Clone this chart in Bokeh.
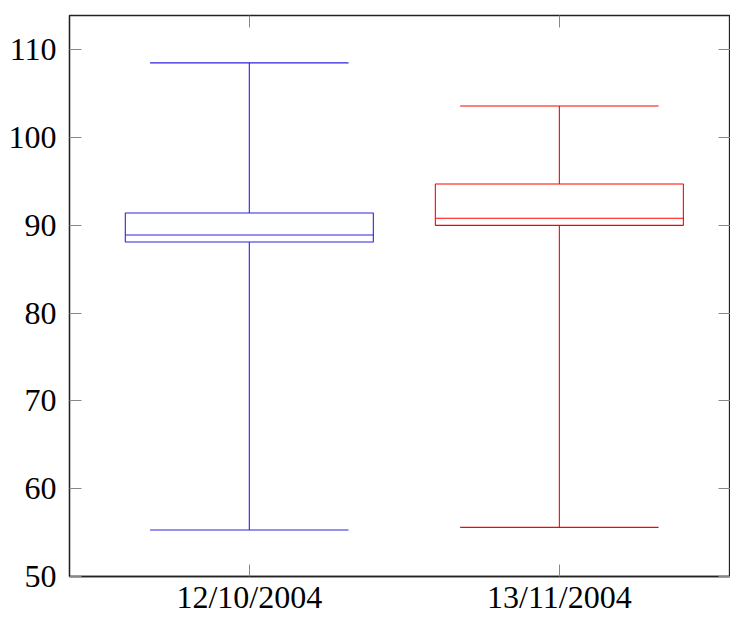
from bokeh.plotting import figure
from bokeh.models import FixedTicker, LinearAxis, ColumnDataSource, CustomLabelingPolicy
from bokeh.embed import file_html
from bokeh.resources import INLINE

categories = ["12/10/2004", "13/11/2004"]
positions = [1, 2]
lower_whisker = [55.3, 55.6]
q1 = [88.1, 90.0]
median = [88.9, 90.8]
q3 = [91.4, 94.7]
upper_whisker = [108.5, 103.6]
colors = ["#2f22dd", "#ff0000"]
yticks = [50, 60, 70, 80, 90, 100, 110]

box_half = 0.4
cap_half = 0.32

src = ColumnDataSource(dict(
    x=positions,
    left=[p - box_half for p in positions],
    right=[p + box_half for p in positions],
    cl=[p - cap_half for p in positions],
    cr=[p + cap_half for p in positions],
    lw=lower_whisker, q1=q1, med=median, q3=q3, uw=upper_whisker,
    color=colors,
))

FONT = "Liberation Serif"

p = figure(width=730, height=617, output_backend="svg", toolbar_location=None,
           x_range=(0.42, 2.552), y_range=(50, 113.9),
           min_border_left=69, min_border_right=0, min_border_top=15, min_border_bottom=41)
p.background_fill_color = "white"
p.border_fill_color = "white"
p.outline_line_color = "#222222"
p.outline_line_width = 1.3
p.grid.visible = False

# whiskers
p.segment(x0="x", y0="q3", x1="x", y1="uw", line_color="color", line_width=1.1, source=src)
p.segment(x0="x", y0="lw", x1="x", y1="q1", line_color="color", line_width=1.1, source=src)
# caps
p.segment(x0="cl", y0="uw", x1="cr", y1="uw", line_color="color", line_width=1.1, source=src)
p.segment(x0="cl", y0="lw", x1="cr", y1="lw", line_color="color", line_width=1.1, source=src)
# boxes
p.quad(left="left", right="right", bottom="q1", top="q3", fill_color=None,
       line_color="color", line_width=1.1, source=src)
# medians
p.segment(x0="left", y0="med", x1="right", y1="med", line_color="color", line_width=1.1, source=src)

for ax in p.xaxis:
    ax.ticker = FixedTicker(ticks=positions)
    ax.major_label_overrides = {pos: lab for pos, lab in zip(positions, categories)}
for ax in p.yaxis:
    ax.ticker = FixedTicker(ticks=yticks)

for ax in list(p.xaxis) + list(p.yaxis):
    ax.axis_line_color = "#222222"
    ax.axis_line_width = 1.3
    ax.major_tick_in = 12
    ax.major_tick_out = 0
    ax.major_tick_line_color = "#888888"
    ax.major_tick_line_width = 1
    ax.minor_tick_line_color = None
    ax.major_label_text_font = FONT
    ax.major_label_text_font_size = "32px"
    ax.major_label_text_color = "black"

p.yaxis.major_label_standoff = 13
p.xaxis.major_label_standoff = 2

hide_all = CustomLabelingPolicy(code="""
try { for (let i = 0; i < indices.size; i++) { indices.unset(i) } } catch (e) {}
return indices
""")

right_ax = LinearAxis(ticker=FixedTicker(ticks=yticks))
p.add_layout(right_ax, "right")
top_ax = LinearAxis(ticker=FixedTicker(ticks=positions))
p.add_layout(top_ax, "above")
for ax in (right_ax, top_ax):
    ax.major_label_policy = hide_all
    ax.major_label_text_font_size = "0px"
    ax.major_label_standoff = 0
    ax.major_tick_in = 12
    ax.major_tick_out = 0
    ax.major_tick_line_color = "#888888"
    ax.axis_line_color = None
    ax.minor_tick_line_color = None

open("out.html", "w").write(file_html(p, INLINE))
